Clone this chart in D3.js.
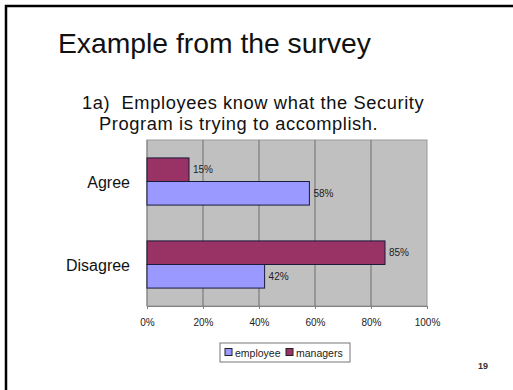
<!DOCTYPE html>
<html>
<head>
<meta charset="utf-8">
<script src="https://cdn.jsdelivr.net/npm/d3@7"></script>
<style>
  body { margin: 0; background: #fff; }
  svg { font-family: "Liberation Sans", Arial, sans-serif; }
</style>
</head>
<body>
<div id="chart"></div>
<script>
// data
var categories = ['Agree', 'Disagree'];
var seriesNames = ['managers', 'employee'];
var managers = [15, 85];
var employee = [58, 42];
var ticks = [0, 20, 40, 60, 80, 100];
var colors = {employee: '#9999ff', managers: '#993366'};

var W = 513, H = 390;
var plot = {left: 147, right: 427, top: 140, bottom: 306};

var svg = d3.select('#chart').append('svg')
  .attr('width', W)
  .attr('height', H);

// slide frame (left + top)
svg.append('path')
  .attr('d', 'M6,' + H + 'V6H' + W)
  .attr('fill', 'none')
  .attr('stroke', '#000')
  .attr('stroke-width', 2.5);

svg.append('text')
  .attr('x', 58).attr('y', 53)
  .attr('font-size', 28.3)
  .attr('fill', '#111')
  .text('Example from the survey');

svg.append('text')
  .attr('x', 82).attr('y', 108.5)
  .attr('font-size', 18.3)
  .attr('letter-spacing', 0.6)
  .attr('fill', '#111')
  .attr('xml:space', 'preserve')
  .text('1a)  Employees know what the Security');
svg.append('text')
  .attr('x', 99).attr('y', 129.5)
  .attr('font-size', 18.3)
  .attr('letter-spacing', 0.6)
  .attr('fill', '#111')
  .text('Program is trying to accomplish.');

var x = d3.scaleLinear().domain([0, 100]).range([plot.left, plot.right]);
var y = d3.scaleBand().domain(categories).range([plot.top, plot.bottom]);
var inner = d3.scaleBand().domain(seriesNames)
  .range([0, y.bandwidth()]).paddingInner(0).paddingOuter(0.76);

svg.append('rect')
  .attr('x', plot.left).attr('y', plot.top)
  .attr('width', plot.right - plot.left)
  .attr('height', plot.bottom - plot.top)
  .attr('fill', '#c0c0c0')
  .attr('stroke', '#999')
  .attr('stroke-width', 1);

// gridlines
svg.selectAll('.grid')
  .data(ticks.slice(1, -1))
  .enter().append('line')
  .attr('x1', function(d){ return x(d); })
  .attr('x2', function(d){ return x(d); })
  .attr('y1', plot.top).attr('y2', plot.bottom)
  .attr('stroke', '#6e6e6e').attr('stroke-width', 1);

// x axis
var xAxis = d3.axisBottom(x).tickValues(ticks)
  .tickFormat(function(d){ return d + '%'; })
  .tickSize(3).tickPadding(10);
var gx = svg.append('g')
  .attr('transform', 'translate(0,' + plot.bottom + ')')
  .call(xAxis);
gx.select('.domain').attr('stroke', '#808080');
gx.selectAll('.tick line').attr('stroke', '#808080');
gx.selectAll('text').attr('font-size', 10).attr('fill', '#222')
  .attr('font-family', '"Liberation Sans", Arial, sans-serif');

// y axis (left line + labels)
svg.append('line')
  .attr('x1', plot.left).attr('x2', plot.left)
  .attr('y1', plot.top).attr('y2', plot.bottom)
  .attr('stroke', '#808080');

svg.selectAll('.cat')
  .data(categories)
  .enter().append('text')
  .attr('x', 130)
  .attr('y', function(d){ return y(d) + y.bandwidth() / 2 + 6.5; })
  .attr('text-anchor', 'end')
  .attr('font-size', 16)
  .attr('fill', '#111')
  .text(function(d){ return d; });

// bars
var rows = [];
categories.forEach(function(c, i){
  rows.push({cat: c, series: 'managers', value: managers[i]});
  rows.push({cat: c, series: 'employee', value: employee[i]});
});

svg.selectAll('.bar')
  .data(rows)
  .enter().append('rect')
  .attr('x', x(0))
  .attr('y', function(d){ return y(d.cat) + inner(d.series); })
  .attr('width', function(d){ return x(d.value) - x(0); })
  .attr('height', inner.bandwidth())
  .attr('fill', function(d){ return colors[d.series]; })
  .attr('stroke', '#1a1a3a')
  .attr('stroke-width', 1);

svg.selectAll('.val')
  .data(rows)
  .enter().append('text')
  .attr('x', function(d){ return x(d.value) + 4; })
  .attr('y', function(d){ return y(d.cat) + inner(d.series) + inner.bandwidth() / 2 + 3.5; })
  .attr('font-size', 10)
  .attr('fill', '#222')
  .text(function(d){ return d.value + '%'; });

// legend
var lg = svg.append('g').attr('transform', 'translate(220,343)');
lg.append('rect')
  .attr('width', 130).attr('height', 19)
  .attr('fill', '#fff').attr('stroke', '#777');
var items = [{name: 'employee', x: 5}, {name: 'managers', x: 66}];
items.forEach(function(it){
  lg.append('rect')
    .attr('x', it.x).attr('y', 5.5)
    .attr('width', 7).attr('height', 7)
    .attr('fill', colors[it.name]).attr('stroke', '#222');
  lg.append('text')
    .attr('x', it.x + 10).attr('y', 13.5)
    .attr('font-size', 10.5)
    .attr('fill', '#222')
    .text(it.name);
});

svg.append('text')
  .attr('x', 478).attr('y', 369)
  .attr('font-size', 9)
  .attr('font-weight', 'bold')
  .attr('fill', '#333')
  .text('19');
</script>
</body>
</html>
